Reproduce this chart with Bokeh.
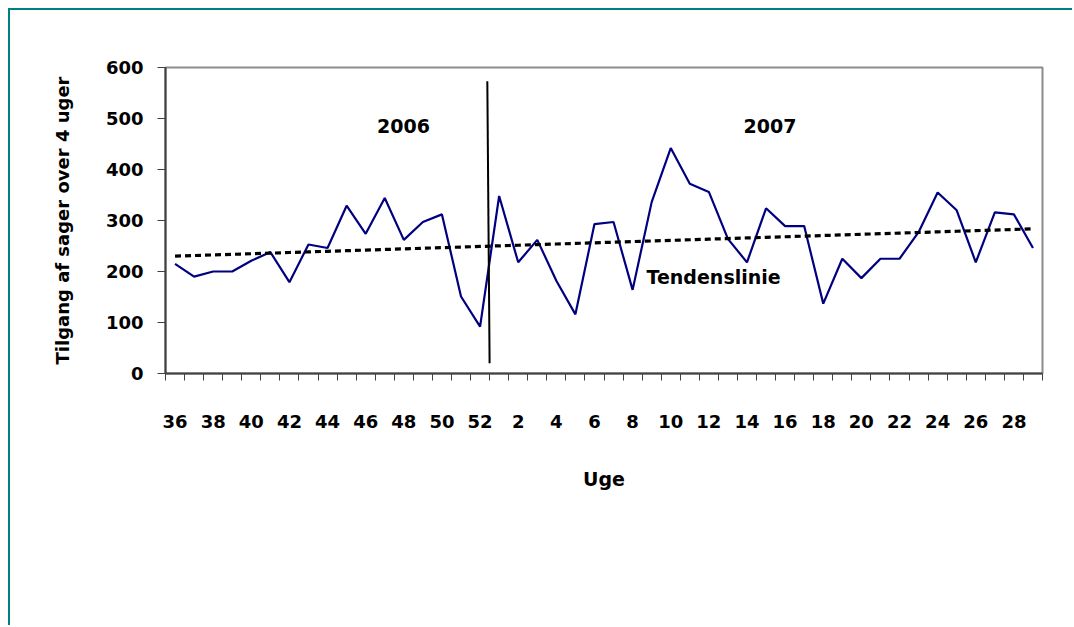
import numpy as np
from bokeh.plotting import figure
from bokeh.models import Range1d, FixedTicker, Label, Segment, ColumnDataSource
from bokeh.embed import file_html
from bokeh.resources import INLINE

# ---- data ----
weeks_2006 = [36, 37, 38, 39, 40, 41, 42, 43, 44, 45, 46, 47, 48, 49, 50, 51, 52]
weeks_2007 = [1, 2, 3, 4, 5, 6, 7, 8, 9, 10, 11, 12, 13, 14, 15, 16, 17, 18, 19, 20,
              21, 22, 23, 24, 25, 26, 27, 28, 29]
values_2006 = [215, 190, 200, 200, 221, 238, 179, 253, 246, 329, 274, 344, 262, 297,
               312, 151, 92]
values_2007 = [348, 218, 262, 182, 116, 293, 297, 164, 336, 442, 372, 356, 264, 218,
               324, 289, 289, 137, 225, 187, 225, 225, 277, 355, 320, 218, 316, 312, 246]
y_ticks = [0, 100, 200, 300, 400, 500, 600]
year_labels = ["2006", "2007"]
trend_label = "Tendenslinie"
x_title = "Uge"
y_title = "Tilgang af sager over 4 uger"

weeks = weeks_2006 + weeks_2007
values = values_2006 + values_2007
x = np.arange(len(values))

# linear trend line (least squares) computed from the series
slope, intercept = np.polyfit(x, values, 1)
trend = slope * x + intercept

FONT = "DejaVu Sans"

p = figure(width=1064, height=617, output_backend="svg", toolbar_location=None,
           x_range=Range1d(-0.5, len(values) - 0.5), y_range=Range1d(0, 600),
           min_border_left=155, min_border_top=57, min_border_right=32,
           min_border_bottom=254)
p.styles = {"margin-left": "8px", "margin-top": "8px",
            "border-left": "2px solid #008080", "border-top": "2px solid #008080"}

p.background_fill_color = "white"
p.border_fill_color = "white"
p.outline_line_color = "#8c8c8c"
p.outline_line_width = 2
p.xgrid.visible = False
p.ygrid.visible = False

# series line
p.line(x, values, line_color="#000080", line_width=2.2)
# trend line
p.line(x, trend, line_color="black", line_width=3.2, line_dash="6 4")

# year divider
src = ColumnDataSource(dict(x0=[16.38], y0=[573], x1=[16.5], y1=[20]))
p.add_glyph(src, Segment(x0="x0", y0="y0", x1="x1", y1="y1", line_color="black", line_width=2))

# labels
lab_kw = dict(text_font=FONT, text_font_style="bold", text_font_size="19px",
              text_color="black", text_baseline="middle")
p.add_layout(Label(x=11.98, y=486, text=year_labels[0], text_align="center", **lab_kw))
p.add_layout(Label(x=31.21, y=486, text=year_labels[1], text_align="center", **lab_kw))
p.add_layout(Label(x=24.73, y=190, text=trend_label, text_align="left", **lab_kw))

# x axis: minor ticks at category boundaries, labels at every second week
label_pos = [int(i) for i in x if (weeks[i] % 2 == 0)]
xa = p.xaxis[0]
xa.ticker = FixedTicker(ticks=label_pos,
                        minor_ticks=[i - 0.5 for i in range(len(values) + 1)])
xa.major_label_overrides = {i: str(weeks[i]) for i in label_pos}
xa.major_tick_out = 0
xa.major_tick_in = 0
xa.minor_tick_out = 7
xa.minor_tick_in = 0
xa.minor_tick_line_color = "#404040"
xa.minor_tick_line_width = 1
xa.axis_line_color = "#404040"
xa.axis_line_width = 2
xa.major_label_standoff = 34
xa.major_label_text_font = FONT
xa.major_label_text_font_style = "bold"
xa.major_label_text_font_size = "18px"
xa.major_label_text_color = "black"
xa.axis_label = x_title
xa.axis_label_standoff = 37
xa.axis_label_text_font = FONT
xa.axis_label_text_font_style = "bold"
xa.axis_label_text_font_size = "19px"
xa.axis_label_text_color = "black"

ya = p.yaxis[0]
ya.ticker = FixedTicker(ticks=y_ticks, minor_ticks=[])
ya.major_tick_out = 8
ya.major_tick_in = 0
ya.major_tick_line_color = "#404040"
ya.axis_line_color = "#404040"
ya.axis_line_width = 2
ya.major_label_standoff = 14
ya.major_label_text_font = FONT
ya.major_label_text_font_style = "bold"
ya.major_label_text_font_size = "18px"
ya.major_label_text_color = "black"
ya.axis_label = y_title
ya.axis_label_standoff = 30
ya.axis_label_text_font = FONT
ya.axis_label_text_font_style = "bold"
ya.axis_label_text_font_size = "18px"
ya.axis_label_text_color = "black"

open("out.html", "w").write(file_html(p, INLINE))
